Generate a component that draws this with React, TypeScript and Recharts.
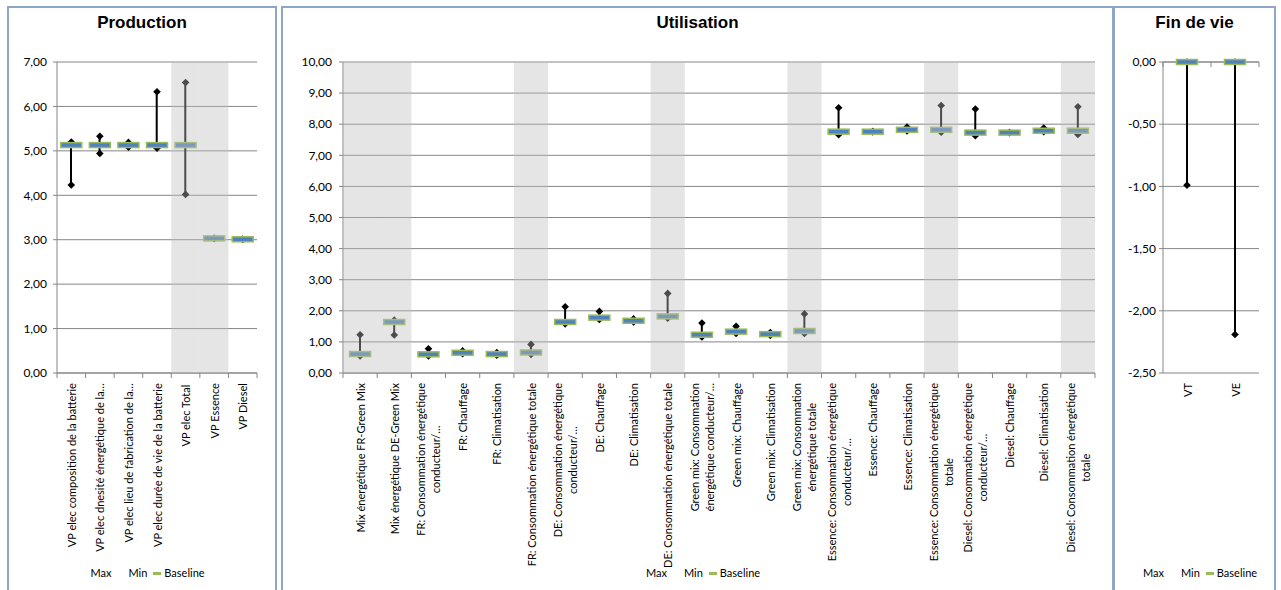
import React from "react";
import {
  ComposedChart,
  Bar,
  Line,
  XAxis,
  YAxis,
  CartesianGrid,
  ReferenceArea,
  ReferenceLine,
  Legend,
} from "recharts";

const FONT = "Lato, 'Open Sans', sans-serif";
const TITLE_FONT = "'Liberation Sans', Arial, sans-serif";
const GRID = "#868686";
const BLUE = "#4F81BD";
const GREEN = "#9BBB59";
const SHADE = "#BFBFBF";
const BORDER = "#8EA7C9";

const SERIES_NAMES = ["Max", "Min", "Baseline"];

// Production
const prodCategories = [
  "VP elec composition de la batterie",
  "VP elec dnesité énergétique de la…",
  "VP elec lieu de fabrication de la…",
  "VP elec durée de vie de la batterie",
  "VP elec  Total",
  "VP Essence",
  "VP Diesel",
];
const prodMax = [5.2, 5.33, 5.19, 6.33, 6.54, 3.03, 3.01];
const prodMin = [4.23, 4.94, 5.08, 5.06, 4.02, 3.03, 3.01];
const prodBaseline = [5.13, 5.13, 5.13, 5.13, 5.13, 3.03, 3.01];
const prodShaded = [4, 5, 6];
const prodTicks = [0, 1, 2, 3, 4, 5, 6, 7];

// Utilisation
const utilCategories = [
  "Mix énergétique FR-Green Mix",
  "Mix énergétique DE-Green Mix",
  "FR: Consommation énergétique\nconducteur/…",
  "FR: Chauffage",
  "FR: Climatisation",
  "FR: Consommation énergétique totale",
  "DE: Consommation énergétique\nconducteur/…",
  "DE: Chauffage",
  "DE: Climatisation",
  "DE: Consommation énergétique totale",
  "Green mix: Consommation\nénergétique conducteur/…",
  "Green mix: Chauffage",
  "Green mix: Climatisation",
  "Green mix: Consommation\nénergétique totale",
  "Essence: Consommation énergétique\nconducteur/…",
  "Essence: Chauffage",
  "Essence: Climatisation",
  "Essence: Consommation énergétique\ntotale",
  "Diesel: Consommation énergétique\nconducteur/…",
  "Diesel: Chauffage",
  "Diesel: Climatisation",
  "Diesel: Consommation énergétique\ntotale",
];
const utilMax = [1.23, 1.7, 0.78, 0.71, 0.66, 0.92, 2.13, 1.98, 1.74, 2.56, 1.61, 1.5, 1.3, 1.9, 8.53, 7.76, 7.91, 8.6, 8.49, 7.73, 7.88, 8.56];
const utilMin = [0.55, 1.22, 0.55, 0.62, 0.57, 0.6, 1.58, 1.72, 1.64, 1.76, 1.16, 1.27, 1.21, 1.27, 7.66, 7.76, 7.78, 7.74, 7.63, 7.73, 7.76, 7.67];
const utilBaseline = [0.61, 1.64, 0.6, 0.65, 0.61, 0.66, 1.64, 1.78, 1.68, 1.82, 1.23, 1.33, 1.25, 1.35, 7.76, 7.76, 7.82, 7.82, 7.73, 7.73, 7.79, 7.79];
const utilShaded = [0, 1, 5, 9, 13, 17, 21];
const utilTicks = [0, 1, 2, 3, 4, 5, 6, 7, 8, 9, 10];

// Fin de vie
const finCategories = ["VT", "VE"];
const finMax = [0, 0];
const finMin = [-0.99, -2.19];
const finBaseline = [0, 0];
const finShaded: number[] = [];
const finTicks = [-2.5, -2, -1.5, -1, -0.5, 0];

const fmt = (v: number) => v.toFixed(2).replace(".", ",");

let ctx: CanvasRenderingContext2D | null = null;
function measure(text: string, size: number) {
  if (!ctx) ctx = document.createElement("canvas").getContext("2d");
  if (!ctx) return text.length * size * 0.5;
  ctx.font = `${size}px ${FONT}`;
  return ctx.measureText(text).width;
}

const CategoryTick = (props: any) => {
  const { x, y, payload, index, count, bandWidth, fontSize, lineGap, tickTopY } = props;
  const lines = String(payload.value).split("\n");
  const maxW = Math.max(...lines.map((l: string) => measure(l, fontSize)));
  const ty = tickTopY ?? y;
  const cy = y + 10 + maxW / 2;
  return (
    <g>
      <line x1={x - bandWidth / 2} x2={x - bandWidth / 2} y1={ty} y2={ty + 5} stroke={GRID} />
      {index === count - 1 && (
        <line x1={x + bandWidth / 2} x2={x + bandWidth / 2} y1={ty} y2={ty + 5} stroke={GRID} />
      )}
      {lines.map((l: string, i: number) => (
        <text
          key={i}
          x={0}
          y={0}
          transform={`translate(${x + (i - (lines.length - 1) / 2) * lineGap}, ${cy}) rotate(-90)`}
          textAnchor="middle"
          dominantBaseline="central"
          fontSize={fontSize}
          fontFamily={FONT}
          fill="#000"
        >
          {l}
        </text>
      ))}
    </g>
  );
};

const Diamond = (props: any) => {
  const { cx, cy } = props;
  if (cx == null || cy == null) return null;
  const r = 3.8;
  return (
    <polygon
      points={`${cx},${cy - r} ${cx + r},${cy} ${cx},${cy + r} ${cx - r},${cy}`}
      fill="#000"
      stroke="none"
    />
  );
};

const BaselineBox = (props: any) => {
  const { cx, cy } = props;
  if (cx == null || cy == null) return null;
  return <rect x={cx - 10.5} y={cy - 2.5} width={21} height={5} fill={BLUE} stroke={GREEN} strokeWidth={1.5} />;
};

const HiLo = (props: any) => {
  const { x, y, width, height } = props;
  const mx = x + width / 2;
  return <line x1={mx} x2={mx} y1={y} y2={y + height} stroke="#000" strokeWidth={2} />;
};

const LegendContent = () => (
  <div
    style={{
      display: "flex",
      justifyContent: "center",
      alignItems: "center",
      fontFamily: FONT,
      fontSize: 11,
      lineHeight: "14px",
      color: "#000",
      whiteSpace: "nowrap",
    }}
  >
    {SERIES_NAMES.map((n, i) => (
      <span key={n} style={{ display: "inline-flex", alignItems: "center", marginLeft: i ? 6 : 0 }}>
        <span
          style={{
            display: "inline-block",
            width: 8,
            height: 3,
            marginRight: 3,
            background: n === "Baseline" ? GREEN : "transparent",
          }}
        />
        {n}
      </span>
    ))}
  </div>
);

type PanelProps = {
  title: string;
  left: number;
  width: number;
  categories: string[];
  max: number[];
  min: number[];
  baseline: number[];
  shaded: number[];
  ticks: number[];
  yWidth: number;
  marginLeft: number;
  marginRight: number;
  tickMargin: number;
  fontSize: number;
  lineGap: number;
  axisAtZero?: boolean;
};

const CHART_H = 582;
const TOP = 54;
const X_H = 217;

function Panel(p: PanelProps) {
  const inner = p.width - 4;
  const data = p.categories.map((c, i) => ({
    name: c,
    max: p.max[i],
    min: p.min[i],
    baseline: p.baseline[i],
    range: [p.min[i], p.max[i]],
  }));
  const plotW = inner - p.marginLeft - p.yWidth - p.marginRight;
  const bandWidth = plotW / p.categories.length;
  return (
    <div
      style={{
        position: "absolute",
        left: p.left,
        top: 6,
        width: p.width,
        height: 600,
        boxSizing: "border-box",
        border: `2px solid ${BORDER}`,
        background: "#fff",
      }}
    >
      <div
        style={{
          position: "absolute",
          top: 5,
          left: 0,
          width: inner,
          textAlign: "center",
          fontFamily: TITLE_FONT,
          fontWeight: "bold",
          fontSize: 17,
          lineHeight: "20px",
        }}
      >
        {p.title}
      </div>
      <ComposedChart
        width={inner}
        height={CHART_H}
        data={data}
        margin={{ top: TOP, right: p.marginRight, bottom: 0, left: p.marginLeft }}
      >
        <CartesianGrid vertical={false} stroke={GRID} />
        <XAxis
          dataKey="name"
          height={X_H}
          interval={0}
          axisLine={p.axisAtZero ? false : { stroke: GRID }}
          tickLine={false}
          tickSize={0}
          tickMargin={0}
          tick={
            <CategoryTick
              count={p.categories.length}
              bandWidth={bandWidth}
              fontSize={p.fontSize}
              lineGap={p.lineGap}
              tickTopY={p.axisAtZero ? TOP : undefined}
            />
          }
        />
        <YAxis
          width={p.yWidth}
          domain={[p.ticks[0], p.ticks[p.ticks.length - 1]]}
          ticks={p.ticks}
          interval={0}
          tickFormatter={fmt}
          axisLine={{ stroke: GRID }}
          tickLine={{ stroke: GRID }}
          tickSize={4}
          tickMargin={p.tickMargin}
          tick={{ fontSize: 12, fill: "#000", fontFamily: FONT }}
        />
        {p.axisAtZero && <ReferenceLine y={0} stroke={GRID} />}
        <Bar dataKey="range" barSize={2} shape={HiLo} isAnimationActive={false} legendType="none" />
        <Line dataKey="max" name="Max" stroke="none" dot={<Diamond />} activeDot={false} isAnimationActive={false} />
        <Line dataKey="min" name="Min" stroke="none" dot={<Diamond />} activeDot={false} isAnimationActive={false} />
        <Line
          dataKey="baseline"
          name="Baseline"
          stroke="none"
          dot={<BaselineBox />}
          activeDot={false}
          isAnimationActive={false}
        />
        {p.shaded.map((i) => (
          <ReferenceArea
            key={i}
            x1={p.categories[i]}
            x2={p.categories[i]}
            fill={SHADE}
            fillOpacity={0.4}
            stroke="none"
            zIndex={1500}
          />
        ))}
        <Legend
          verticalAlign="middle"
          align="center"
          layout="horizontal"
          wrapperStyle={{ top: 558, left: 0, width: inner }}
          content={() => <LegendContent />}
        />
      </ComposedChart>
    </div>
  );
}

export default function App() {
  return (
    <div
      style={{
        position: "absolute",
        left: 0,
        top: 0,
        width: 1281,
        height: 590,
        overflow: "hidden",
        background: "#fff",
      }}
    >
      <Panel
        title="Production"
        left={7}
        width={270}
        categories={prodCategories}
        max={prodMax}
        min={prodMin}
        baseline={prodBaseline}
        shaded={prodShaded}
        ticks={prodTicks}
        yWidth={40}
        marginLeft={8}
        marginRight={18}
        tickMargin={6}
        fontSize={11}
        lineGap={14}
      />
      <Panel
        title="Utilisation"
        left={281}
        width={833}
        categories={utilCategories}
        max={utilMax}
        min={utilMin}
        baseline={utilBaseline}
        shaded={utilShaded}
        ticks={utilTicks}
        yWidth={45}
        marginLeft={15}
        marginRight={17}
        tickMargin={7}
        fontSize={11}
        lineGap={15}
      />
      <Panel
        title="Fin de vie"
        left={1113}
        width={163}
        categories={finCategories}
        max={finMax}
        min={finMin}
        baseline={finBaseline}
        shaded={finShaded}
        ticks={finTicks}
        yWidth={40}
        marginLeft={8}
        marginRight={15}
        tickMargin={3}
        fontSize={11}
        lineGap={14}
        axisAtZero
      />
    </div>
  );
}
